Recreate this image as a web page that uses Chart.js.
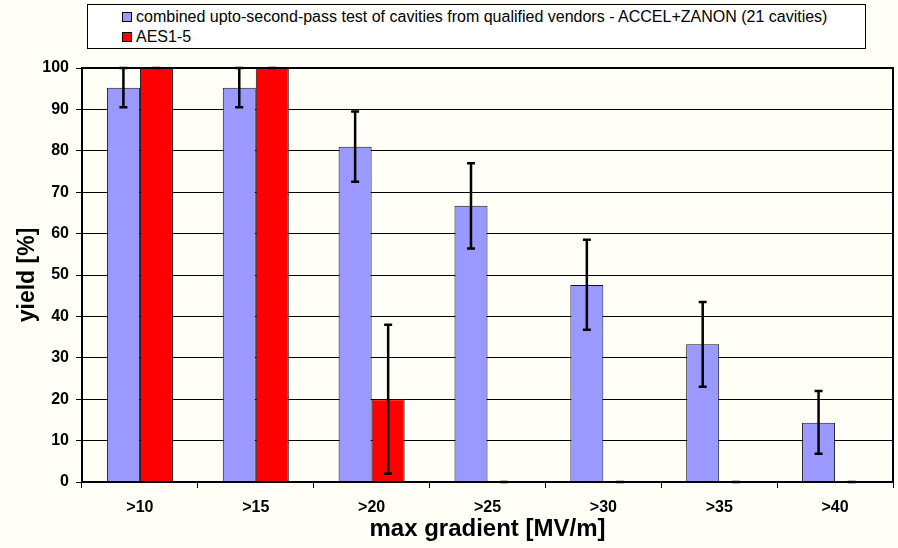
<!DOCTYPE html>
<html>
<head>
<meta charset="utf-8">
<script src="https://cdn.jsdelivr.net/npm/chart.js@4.4.1/dist/chart.umd.min.js"></script>
<style>
    body { margin: 0; background: #fffff7; }
    #wrap { position: relative; width: 898px; height: 548px; }
    #legend {
        position: absolute; left: 87px; top: 4px; width: 777px; height: 43px;
        border: 1px solid #000; background: #fff;
        font: 16px "Liberation Sans", Arial, sans-serif; color: #000;
    }
    #legend div { position: absolute; left: 34px; line-height: 18px; white-space: nowrap; }
    #legend span { display: inline-block; width: 8px; height: 8px; border: 1px solid #000; margin-right: 4px; vertical-align: 0px; }
</style>
</head>
<body>
<div id="wrap">
    <canvas id="myChart" width="898" height="548"></canvas>
    <div id="legend"></div>
</div>
<script>
const categories = ['>10', '>15', '>20', '>25', '>30', '>35', '>40'];

const blueLabel = 'combined upto-second-pass test of cavities from qualified vendors - ACCEL+ZANON (21 cavities)';
const blueValues = [95.2, 95.2, 81.0, 66.7, 47.6, 33.3, 14.3];
const blueLow = [90.5, 90.5, 72.5, 56.4, 36.8, 23.0, 6.8];
const blueHigh = [100, 100, 89.5, 77.0, 58.5, 43.5, 22.0];

const redLabel = 'AES1-5';
const redValues = [100, 100, 20, 0, 0, 0, 0];
const redLow = [100, 100, 2, 0, 0, 0, 0];
const redHigh = [100, 100, 38, 0, 0, 0, 0];

const yTicks = [0, 10, 20, 30, 40, 50, 60, 70, 80, 90, 100];

const legendBox = document.getElementById('legend');
legendBox.innerHTML =
    '<div style="top:3px"><span style="background:#9999ff"></span>' + blueLabel + '</div>' +
    '<div style="top:23px"><span style="background:#ff0000"></span>' + redLabel + '</div>';

const errorBars = {
    id: 'errorBars',
    afterDatasetsDraw(chart) {
        const ctx = chart.ctx;
        const y = chart.scales.y;
        const ranges = [[blueLow, blueHigh], [redLow, redHigh]];
        ctx.save();
        ctx.strokeStyle = '#000';
        ctx.lineWidth = 2.5;
        chart.data.datasets.forEach((ds, i) => {
            const meta = chart.getDatasetMeta(i);
            meta.data.forEach((bar, j) => {
                const lo = y.getPixelForValue(ranges[i][0][j]);
                const hi = y.getPixelForValue(ranges[i][1][j]);
                ctx.beginPath();
                ctx.moveTo(bar.x, lo);
                ctx.lineTo(bar.x, hi);
                ctx.moveTo(bar.x - 4, lo);
                ctx.lineTo(bar.x + 4, lo);
                ctx.moveTo(bar.x - 4, hi);
                ctx.lineTo(bar.x + 4, hi);
                ctx.stroke();
            });
        });
        ctx.restore();
    }
};

const frame = {
    id: 'frame',
    afterDraw(chart) {
        const a = chart.chartArea;
        const ctx = chart.ctx;
        ctx.save();
        ctx.strokeStyle = '#000';
        ctx.lineWidth = 2;
        ctx.strokeRect(a.left, a.top, a.right - a.left, a.bottom - a.top);
        ctx.restore();
    }
};

const ctx = document.getElementById('myChart').getContext('2d');

const myChart = new Chart(ctx, {
    type: 'bar',
    data: {
        labels: categories,
        datasets: [{
            label: blueLabel,
            data: blueValues,
            backgroundColor: '#9999ff',
            borderColor: '#111',
            borderWidth: 1
        }, {
            label: redLabel,
            data: redValues,
            backgroundColor: '#ff0000',
            borderColor: '#111',
            borderWidth: 1
        }]
    },
    options: {
        responsive: false,
        animation: false,
        layout: { padding: { top: 68, right: 5, left: 0, bottom: 0 } },
        categoryPercentage: 0.57,
        barPercentage: 1.0,
        plugins: {
            legend: { display: false },
            tooltip: { enabled: false }
        },
        scales: {
            x: {
                offset: true,
                grid: { display: true, offset: true, drawOnChartArea: false, color: '#000', tickLength: 6, lineWidth: 1 },
                border: { color: '#000', width: 2 },
                ticks: { color: '#000', font: { family: 'Liberation Sans', size: 16, weight: 'bold' }, padding: 10 },
                title: { display: true, text: 'max gradient [MV/m]', color: '#000', font: { family: 'Liberation Sans', size: 24, weight: 'bold' }, padding: { top: 1 } },
                afterFit(scale) { scale.height = 66; }
            },
            y: {
                min: 0,
                max: 100,
                afterBuildTicks(scale) { scale.ticks = yTicks.map(v => ({ value: v })); },
                grid: { color: '#000', tickLength: 6, lineWidth: 1 },
                border: { color: '#000', width: 2 },
                ticks: { color: '#000', font: { family: 'Liberation Sans', size: 16, weight: 'bold' }, padding: 7 },
                title: { display: true, text: 'yield [%]', color: '#000', font: { family: 'Liberation Sans', size: 23, weight: 'bold' }, padding: { top: 14, bottom: 0 } },
                afterFit(scale) { scale.width = 82; }
            }
        }
    },
    plugins: [errorBars, frame]
});
</script>
</body>
</html>
